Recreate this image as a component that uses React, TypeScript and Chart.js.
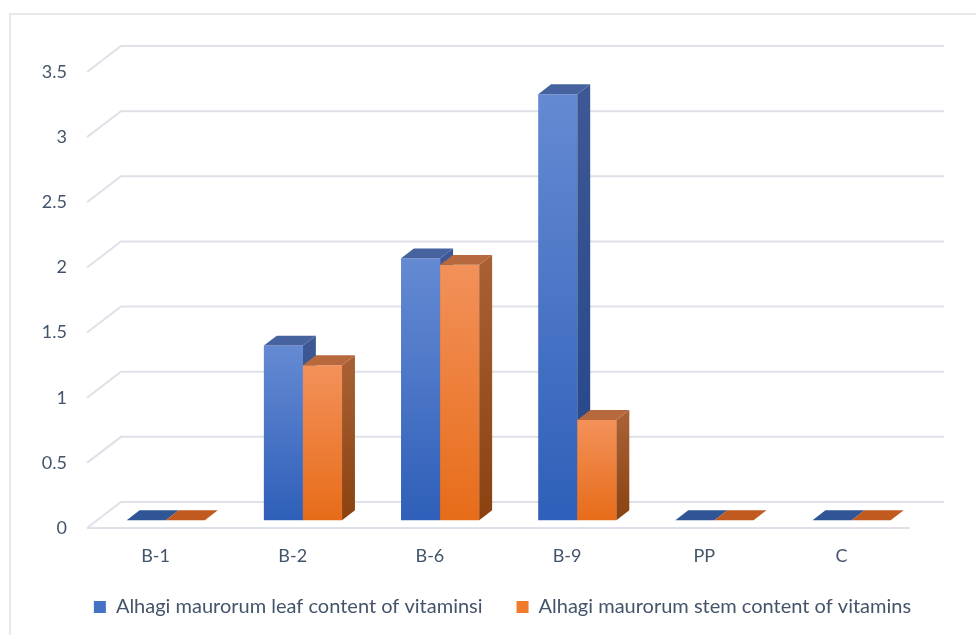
import React, { useEffect, useRef } from "react";
import { Chart, registerables } from "chart.js";

Chart.register(...registerables);

const categories = ["B-1", "B-2", "B-6", "B-9", "PP", "C"];
const leafValues = [0, 1.34, 2.01, 3.27, 0, 0];
const stemValues = [0, 1.19, 1.96, 0.77, 0, 0];
const seriesLabels = [
  "Alhagi maurorum leaf content of vitaminsi",
  "Alhagi maurorum stem content of vitamins",
];
const yTicks = [0, 0.5, 1, 1.5, 2, 2.5, 3, 3.5];

// perspective depth of the walls/floor, in pixels
const DEPTH_X = 34;
const DEPTH_Y = -26;
// where the bar boxes sit inside that depth (fractions front -> back)
const BAR_FRONT = 0.3;
const BAR_BACK = 0.68;

const TEXT_COLOR = "#44546a";
const AXIS_FONT = { family: "Lato", size: 18 };
const LEGEND_FONT = { family: "Lato", size: 20 };
const LEFT_PAD = 29;

const palettes = [
  {
    frontTop: "#658ad3",
    frontBottom: "#2f5fb9",
    sideTop: "#3d5894",
    sideBottom: "#22458a",
    top: "#46639f",
    flat: "#2f5597",
    legend: "#4472c4",
  },
  {
    frontTop: "#f3915a",
    frontBottom: "#e76c19",
    sideTop: "#a85f33",
    sideBottom: "#8b4210",
    top: "#b7683c",
    flat: "#c05a1f",
    legend: "#f07b2c",
  },
];

function poly(ctx: CanvasRenderingContext2D, pts: number[][], fill: string | CanvasGradient) {
  ctx.beginPath();
  ctx.moveTo(pts[0][0], pts[0][1]);
  for (let i = 1; i < pts.length; i++) ctx.lineTo(pts[i][0], pts[i][1]);
  ctx.closePath();
  ctx.fillStyle = fill;
  ctx.fill();
}

const chartFrame = {
  id: "chartFrame",
  beforeDraw(chart: any) {
    const ctx = chart.ctx;
    ctx.save();
    ctx.fillStyle = "#ffffff";
    ctx.fillRect(0, 0, chart.width, chart.height);
    ctx.strokeStyle = "#dfe2e8";
    ctx.lineWidth = 1.5;
    ctx.strokeRect(10, 14, chart.width + 10, chart.height + 10);
    ctx.restore();
  },
};

const boxBars = {
  id: "boxBars",
  beforeDatasetsDraw(chart: any) {
    const { ctx, chartArea: a, scales } = chart;
    const y = scales.y;
    ctx.save();

    // back wall gridlines with their slanted side-wall part
    ctx.strokeStyle = "#dee1e8";
    ctx.lineWidth = 2;
    y.ticks.forEach((t: any) => {
      const py = y.getPixelForValue(t.value);
      ctx.beginPath();
      ctx.moveTo(a.left, py);
      ctx.lineTo(a.left + DEPTH_X, py + DEPTH_Y);
      ctx.lineTo(a.right + DEPTH_X, py + DEPTH_Y);
      ctx.stroke();
    });
    // front edge of the floor
    const p0 = y.getPixelForValue(0);
    ctx.beginPath();
    ctx.moveTo(a.left, p0);
    ctx.lineTo(a.right, p0);
    ctx.stroke();

    const fx = DEPTH_X * BAR_FRONT;
    const fy = DEPTH_Y * BAR_FRONT;
    const dx = DEPTH_X * (BAR_BACK - BAR_FRONT);
    const dy = DEPTH_Y * (BAR_BACK - BAR_FRONT);

    const metas = chart.data.datasets.map((_: any, i: number) => chart.getDatasetMeta(i));
    const n = chart.data.labels.length;
    for (let j = 0; j < n; j++) {
      metas.forEach((meta: any, i: number) => {
        const bar = meta.data[j];
        if (!bar) return;
        const p = palettes[i];
        const { x, y: top0, base, width } = bar.getProps(["x", "y", "base", "width"], true);
        const l = x - width / 2 + fx;
        const r = x + width / 2 + fx;
        const top = top0 + fy;
        const bottom = base + fy;

        if (Math.abs(bottom - top) < 0.5) {
          poly(ctx, [[l, bottom], [r, bottom], [r + dx, bottom + dy], [l + dx, bottom + dy]], p.flat);
          return;
        }
        const gFront = ctx.createLinearGradient(0, top, 0, bottom);
        gFront.addColorStop(0, p.frontTop);
        gFront.addColorStop(1, p.frontBottom);
        poly(ctx, [[l, top], [r, top], [r, bottom], [l, bottom]], gFront);

        const gSide = ctx.createLinearGradient(0, top, 0, bottom);
        gSide.addColorStop(0, p.sideTop);
        gSide.addColorStop(1, p.sideBottom);
        poly(ctx, [[r, top], [r + dx, top + dy], [r + dx, bottom + dy], [r, bottom]], gSide);

        poly(ctx, [[l, top], [r, top], [r + dx, top + dy], [l + dx, top + dy]], p.top);
      });
    }
    ctx.restore();
    return false;
  },
};

export default function App() {
  const canvasRef = useRef<HTMLCanvasElement | null>(null);

  useEffect(() => {
    if (!canvasRef.current) return;
    const chart = new Chart(canvasRef.current, {
      type: "bar",
      data: {
        labels: categories,
        datasets: [
          {
            label: seriesLabels[0],
            data: leafValues,
            backgroundColor: palettes[0].legend,
            borderWidth: 0,
          },
          {
            label: seriesLabels[1],
            data: stemValues,
            backgroundColor: palettes[1].legend,
            borderWidth: 0,
          },
        ],
      },
      options: {
        responsive: false,
        animation: false,
        layout: { padding: { left: LEFT_PAD, right: 0, top: 72, bottom: 8 } },
        datasets: { bar: { categoryPercentage: 0.57, barPercentage: 1 } },
        scales: {
          x: {
            grid: { display: false, drawTicks: false },
            border: { display: false },
            ticks: { padding: 17, color: TEXT_COLOR, font: AXIS_FONT },
            afterFit: (s: any) => {
              s.height = 35;
            },
          },
          y: {
            min: 0,
            max: 3.5,
            grid: { display: false, drawTicks: false },
            border: { display: false },
            ticks: {
              padding: 20,
              color: TEXT_COLOR,
              font: AXIS_FONT,
              callback: (v: any) => String(v),
            },
            afterBuildTicks: (s: any) => {
              s.ticks = yTicks.map((v) => ({ value: v }));
            },
            afterFit: (s: any) => {
              s.width = 87 - LEFT_PAD;
            },
          },
          depthSpace: {
            position: "right",
            grid: { display: false, drawTicks: false },
            border: { display: false },
            ticks: { display: false },
            afterFit: (s: any) => {
              s.width = 66;
            },
          },
        },
        plugins: {
          legend: {
            position: "bottom",
            labels: {
              boxWidth: 12,
              boxHeight: 12,
              padding: 34,
              color: TEXT_COLOR,
              font: LEGEND_FONT,
            },
          },
          tooltip: { enabled: false },
        },
      },
      plugins: [chartFrame, boxBars],
    } as any);
    return () => chart.destroy();
  }, []);

  return (
    <div style={{ position: "fixed", left: 0, top: 0, width: 976, height: 635 }}>
      <canvas ref={canvasRef} width={976} height={635} style={{ display: "block" }} />
    </div>
  );
}
